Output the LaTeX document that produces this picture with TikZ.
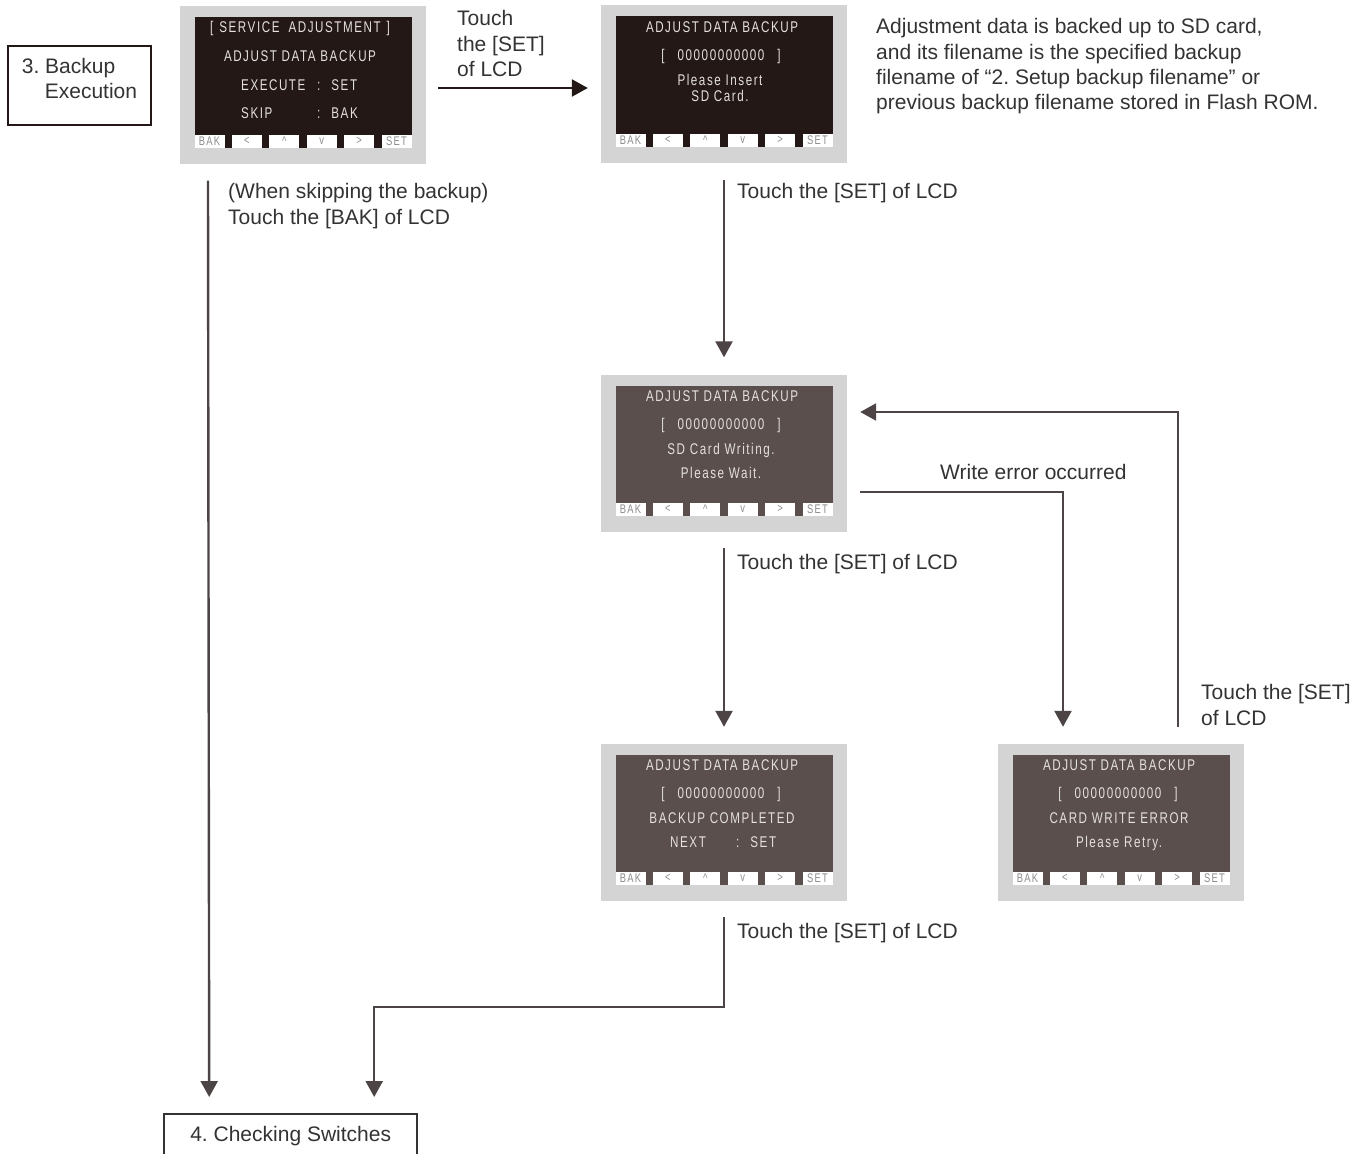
\documentclass[tikz,border=0pt]{standalone}
\usepackage{fontspec}
\setmainfont{Liberation Sans}
\newfontfamily\lcdfont[FakeStretch=0.75,LetterSpace=10]{Liberation Sans}
\usetikzlibrary{arrows.meta,positioning}
\definecolor{Ink}{HTML}{333333}
\definecolor{Wire}{HTML}{4D4545}
\definecolor{Bezel}{HTML}{D4D4D4}
\definecolor{LcdDark}{HTML}{231815}
\definecolor{LcdGrey}{HTML}{5A4F4C}
\definecolor{LcdText}{HTML}{E4E0DE}
\definecolor{KeyText}{HTML}{8C8C8C}

\tikzset{
  bezel/.style={fill=Bezel,minimum width=246pt,minimum height=157pt,inner sep=0pt},
  lcdface/.style={minimum width=217pt,minimum height=130pt,inner sep=0pt},
  lcdline/.style={text=LcdText,font=\lcdfont\fontsize{15.5}{15.5}\selectfont,
    inner sep=0pt,text height=11pt,text depth=0pt},
  keylbl/.style={fill=white,text=KeyText,font=\lcdfont\fontsize{12.5}{12.5}\selectfont,
    minimum width=30pt,minimum height=13pt,inner sep=0pt},
  flow/.style={draw=Wire,line width=2.4pt,-{Triangle[length=16pt,width=17pt]}},
  note/.style={text=Ink,font=\fontsize{21}{25.3}\selectfont,align=left,inner sep=0pt},
  stepbox/.style={draw=LcdDark,line width=2pt,text=Ink,inner sep=0pt,
    font=\fontsize{21}{25}\selectfont}
}

% bezel, screen and the six soft keys
\newcommand{\lcdpanel}[3]{%
  \begin{scope}[shift={(#2)}]
    \node[bezel] (#1) at (0,0) {};
    \node[lcdface,fill=#3] (#1-face) at (0,-2.5) {};
    \foreach \k [count=\i] in {BAK,<,\textasciicircum,v,>,SET}
      \node[keylbl] (#1-key\i) at ({-93.5+(\i-1)*37.4},56) {\k};
  \end{scope}}

\begin{document}
\frenchspacing
\begin{tikzpicture}[x=1pt,y=-1pt]
  \fill[white] (0,0) rectangle (1356,1153);
  \useasboundingbox (0,0) rectangle (1356,1153);

  % screens
  \lcdpanel{menu}{303,85}{LcdDark}
  \lcdpanel{insert}{724,84}{LcdDark}
  \lcdpanel{writing}{724,453}{LcdGrey}
  \lcdpanel{done}{724,822}{LcdGrey}
  \lcdpanel{failed}{1121,822}{LcdGrey}

  \node[lcdline] (menu-l1) at (300,27) {[\hspace{6pt}SERVICE\hspace{9pt}ADJUSTMENT\hspace{6pt}]};
  \node[lcdline] (menu-l2) at (300,56) {ADJUST DATA BACKUP};
  \node[lcdline,anchor=west] (menu-l3) at (241,85) {\makebox[76pt][l]{EXECUTE}:\hspace{11pt}SET};
  \node[lcdline,anchor=west] (menu-l4) at (241,113) {\makebox[76pt][l]{SKIP}:\hspace{11pt}BAK};

  \node[lcdline] (insert-l1) at (722,27) {ADJUST DATA BACKUP};
  \node[lcdline] (insert-l2) at (721,55) {[\hspace{13pt}00000000000\hspace{13pt}]};
  \node[lcdline] (insert-l3) at (720,80) {Please Insert};
  \node[lcdline] (insert-l4) at (720,96) {SD Card.};

  \node[lcdline] (writing-l1) at (722,396) {ADJUST DATA BACKUP};
  \node[lcdline] (writing-l2) at (721,424) {[\hspace{13pt}00000000000\hspace{13pt}]};
  \node[lcdline] (writing-l3) at (721,449) {SD Card Writing.};
  \node[lcdline] (writing-l4) at (721,473) {Please Wait.};

  \node[lcdline] (done-l1) at (722,765) {ADJUST DATA BACKUP};
  \node[lcdline] (done-l2) at (721,793) {[\hspace{13pt}00000000000\hspace{13pt}]};
  \node[lcdline] (done-l3) at (722,818) {BACKUP COMPLETED};
  \node[lcdline,anchor=west] (done-l4) at (670,842) {\makebox[66pt][l]{NEXT}:\hspace{11pt}SET};

  \node[lcdline] (failed-l1) at (1119,765) {ADJUST DATA BACKUP};
  \node[lcdline] (failed-l2) at (1118,793) {[\hspace{13pt}00000000000\hspace{13pt}]};
  \node[lcdline] (failed-l3) at (1119,818) {CARD WRITE ERROR};
  \node[lcdline] (failed-l4) at (1119,842) {Please Retry.};

  % step boxes
  \node[stepbox,minimum width=143pt,minimum height=79pt,align=left,anchor=north west]
    (backup) at (7,45) {3. Backup\\\hspace*{23pt}Execution\\[-10pt]\mbox{}};
  \node[stepbox,draw=Ink,line width=2.4pt,minimum width=253pt,minimum height=44pt,anchor=north west]
    (check) at (163,1113) {4. Checking Switches};

  % connectors
  \draw[flow,draw=LcdDark] ([shift={(12,3)}]menu.east) -- ([shift={(-13,4)}]insert.west);
  \draw[flow] ([shift={(0,17)}]insert.south) -- ([shift={(0,-17)}]writing.north);
  \draw[flow] ([shift={(0,16.5)}]writing.south) -- ([shift={(0,-16.5)}]done.north);
  \draw[flow] ([shift={(13,39)}]writing.east) -| ([shift={(-58,-16.5)}]failed.north);
  \draw[flow] ([shift={(57,-16.5)}]failed.north) |- ([shift={(13,-41)}]writing.east);
  \draw[flow] ([shift={(0,16.5)}]done.south) -- ++(0,90) -| ([shift={(83.5,-16)}]check.north);
  \draw[flow] ([shift={(-95,17)}]menu.south) -- ([shift={(-81.5,-16)}]check.north);

  % labels
  \node[note,anchor=north west] (lbl-go) at (457,10.5) {Touch\\the [SET]\\of LCD};
  \node[note,anchor=north west] (lbl-skip) at (228,183.5) {(When skipping the backup)\\Touch the [BAK] of LCD};
  \node[note,anchor=north west] (lbl-set1) at (737,183.5) {Touch the [SET] of LCD};
  \node[note,anchor=north west] (lbl-set2) at (737,554.5) {Touch the [SET] of LCD};
  \node[note,anchor=north west] (lbl-set3) at (737,923.5) {Touch the [SET] of LCD};
  \node[note,anchor=north west] (lbl-err) at (940,464.5) {Write error occurred};
  \node[note,anchor=north west] (lbl-retry) at (1201,684.5) {Touch the [SET]\\of LCD};
  \node[note,anchor=north west] (lbl-info) at (876,18.5)
    {Adjustment data is backed up to SD card,\\and its filename is the specified backup\\filename of “2. Setup backup filename” or\\previous backup filename stored in Flash ROM.};
\end{tikzpicture}
\end{document}
